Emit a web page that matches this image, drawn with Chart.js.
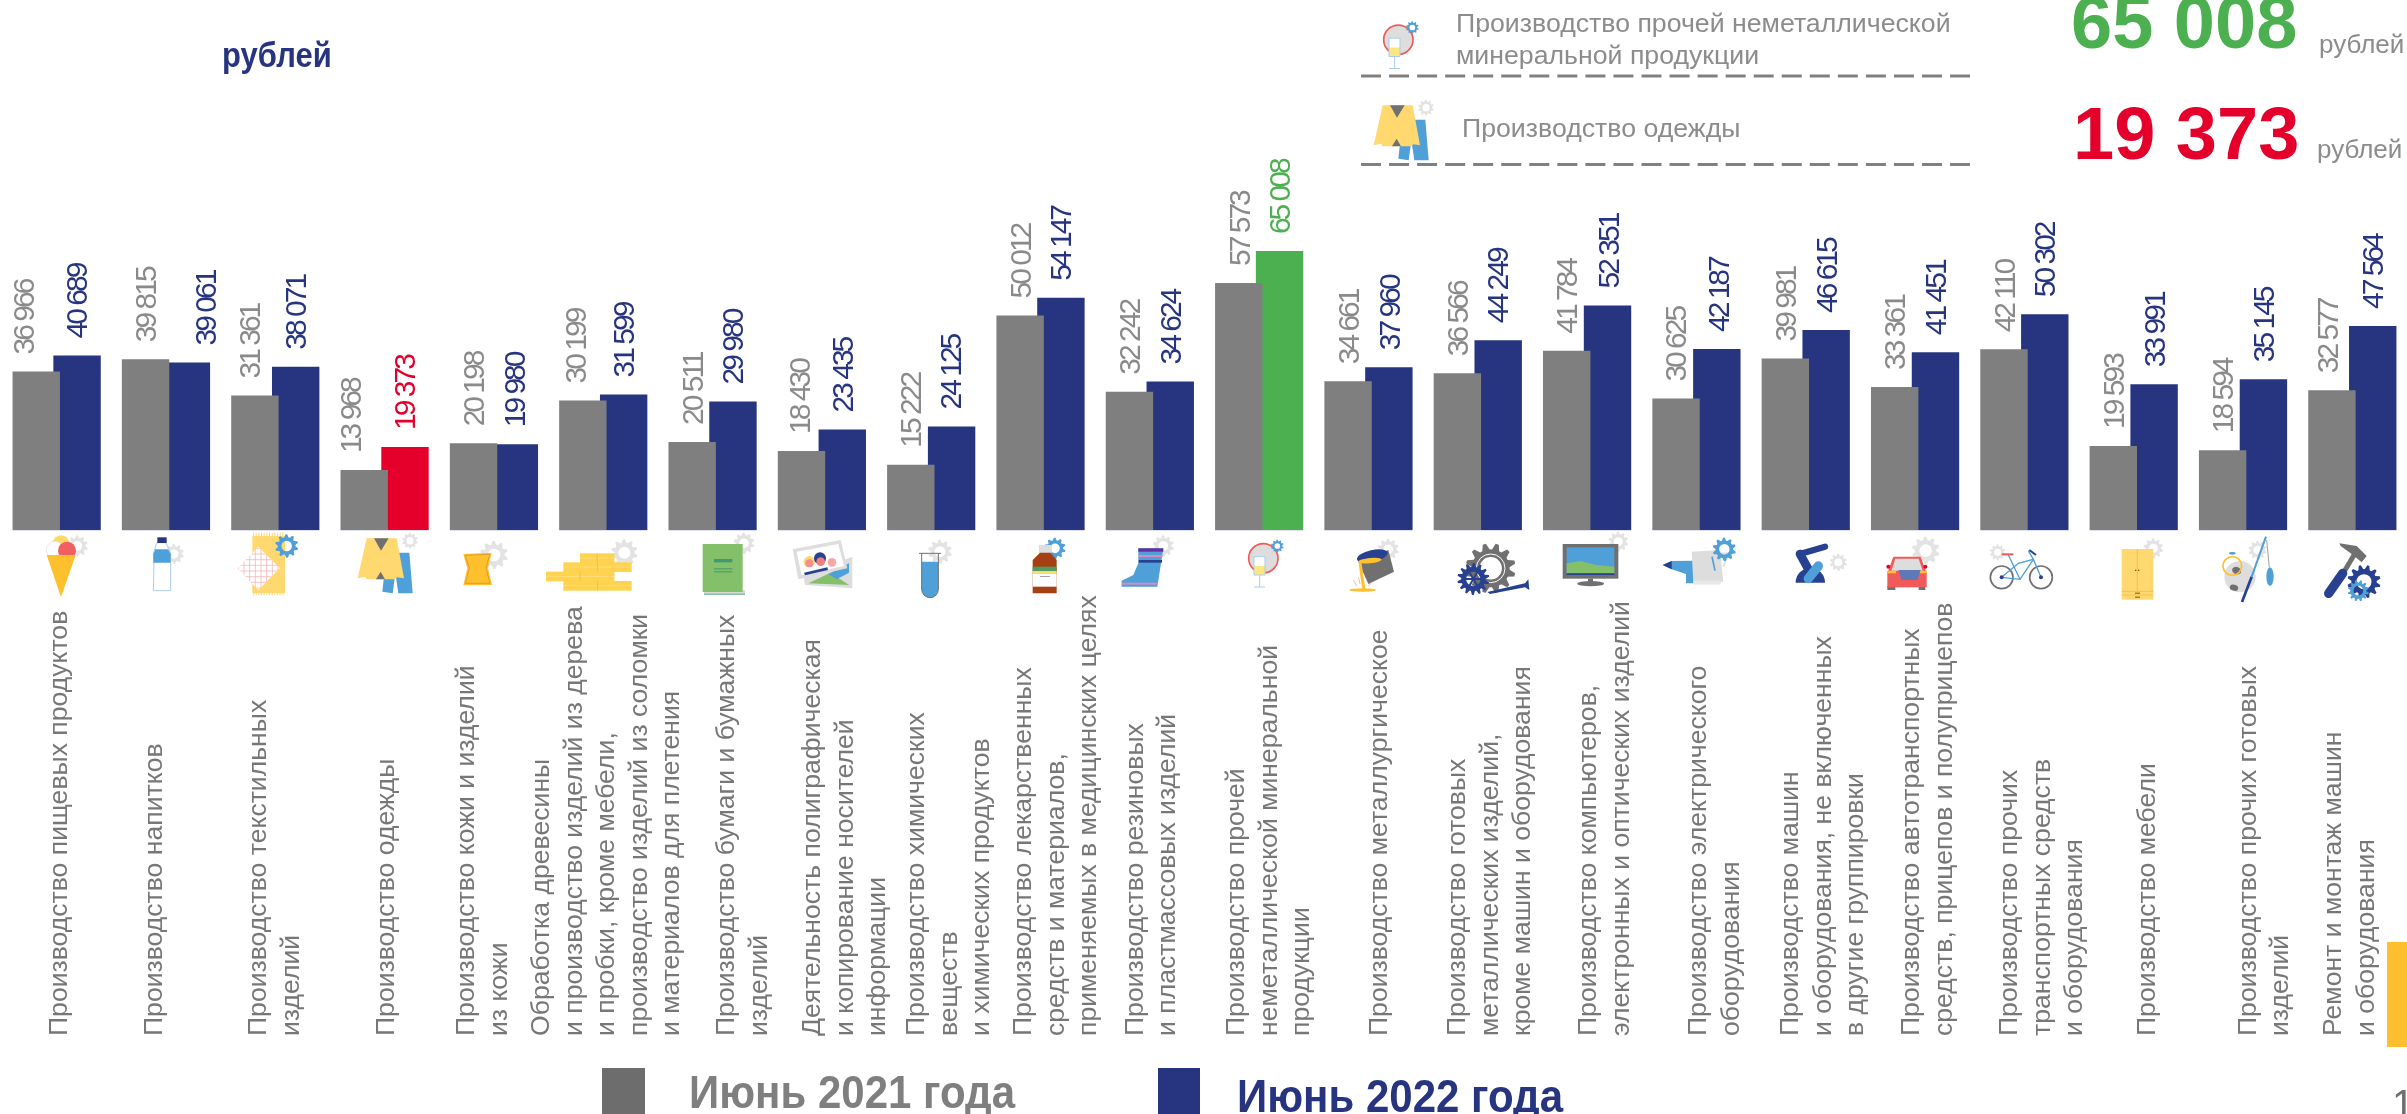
<!DOCTYPE html>
<html lang="ru">
<head>
<meta charset="utf-8">
<title>Среднемесячная заработная плата</title>
<script src="https://cdn.jsdelivr.net/npm/chart.js@4"></script>
<style>
  html, body { margin: 0; padding: 0; background: #fff; width: 2407px; height: 1114px; overflow: hidden; }
  body { position: relative; font-family: "Liberation Sans", Arial, sans-serif; }
  canvas { position: absolute; left: 0; top: 0; }
  .t { position: absolute; white-space: nowrap; line-height: 1; }
  .tall { transform: scaleY(1.12); transform-origin: 0 50%; }
  .box { position: absolute; }
</style>
</head>
<body>
<canvas id="chartCanvas" width="2407" height="1114"></canvas>

<div class="t tall" style="left:222px;top:40px;font-size:31px;font-weight:bold;color:#27347f">рублей</div>

<div class="t" style="left:1456px;top:10px;font-size:26.7px;color:#8c8c8c">Производство прочей неметаллической</div>
<div class="t" style="left:1456px;top:42px;font-size:26.7px;color:#8c8c8c">минеральной продукции</div>
<div class="t" style="left:1462px;top:115px;font-size:26.7px;color:#8c8c8c">Производство одежды</div>

<div class="t" style="left:2071px;top:-14px;font-size:74px;font-weight:bold;color:#4caf50">65 008</div>
<div class="t" style="left:2073px;top:97px;font-size:74px;font-weight:bold;color:#e4002b">19 373</div>
<div class="t" style="left:2319px;top:31px;font-size:26px;color:#8c8c8c">рублей</div>
<div class="t" style="left:2317px;top:136px;font-size:26px;color:#8c8c8c">рублей</div>

<div class="box" style="left:602px;top:1068px;width:43px;height:46px;background:#6d6d6d"></div>
<div class="t tall" style="left:689px;top:1071px;font-size:42px;font-weight:bold;color:#7f7f7f">Июнь 2021 года</div>
<div class="box" style="left:1158px;top:1068px;width:42px;height:46px;background:#27347f"></div>
<div class="t tall" style="left:1237px;top:1075px;font-size:42px;font-weight:bold;color:#27347f">Июнь 2022 года</div>

<div class="box" style="left:2387px;top:942px;width:20px;height:105px;background:#fdbf2d"></div>
<div class="t" style="left:2392px;top:1084px;font-size:40px;color:#6f6f6f">1</div>

<script>
const categories = [
  ["Производство пищевых продуктов"],
  ["Производство напитков"],
  ["Производство текстильных", "изделий"],
  ["Производство одежды"],
  ["Производство кожи и изделий", "из кожи"],
  ["Обработка древесины", "и производство изделий из дерева", "и пробки, кроме мебели,", "производство изделий из соломки", "и материалов для плетения"],
  ["Производство бумаги и бумажных", "изделий"],
  ["Деятельность полиграфическая", "и копирование носителей", "информации"],
  ["Производство химических", "веществ", "и химических продуктов"],
  ["Производство лекарственных", "средств и материалов,", "применяемых в медицинских целях"],
  ["Производство резиновых", "и пластмассовых изделий"],
  ["Производство прочей", "неметаллической минеральной", "продукции"],
  ["Производство металлургическое"],
  ["Производство готовых", "металлических изделий,", "кроме машин и оборудования"],
  ["Производство компьютеров,", "электронных и оптических изделий"],
  ["Производство электрического", "оборудования"],
  ["Производство машин", "и оборудования, не включенных", "в другие группировки"],
  ["Производство автотранспортных", "средств, прицепов и полуприцепов"],
  ["Производство прочих", "транспортных средств", "и оборудования"],
  ["Производство мебели"],
  ["Производство прочих готовых", "изделий"],
  ["Ремонт и монтаж машин", "и оборудования"]
];

const june2021 = [36966, 39815, 31361, 13968, 20198, 30199, 20511, 18430, 15222, 50012, 32242,
  57573, 34661, 36566, 41784, 30625, 39981, 33361, 42110, 19593, 18594, 32577];
const june2022 = [40689, 39061, 38071, 19373, 19980, 31599, 29980, 23435, 24125, 54147, 34624,
  65008, 37960, 44249, 52351, 42187, 46615, 41451, 50302, 33991, 35145, 47564];

const GREY = "#7f7f7f", NAVY = "#27347f", RED = "#e4002b", GREEN = "#4caf50";
const MAX_INDEX = 11, MIN_INDEX = 3;

// сдвиги подписей относительно столбца/категории, как в исходном слайде
const shift2021 = [-11.8, 0.8, -3.9, -12.2, 1, -6.4, 1.7, -1, 1.4, 1.8, 1.1, 1.5, 1.9, 1.8, 1.1, 1.1, 0.9, 1.3, 1.5, 1.3, 1.6, -3.7];
const shift2022 = [0.5, 20.2, 1.3, 0.6, 1, 1.3, 0.7, 1.1, 0.4, 0.7, 1.1, 1, 1.4, 0.8, 2.7, 2.5, 1.8, 1.5, 1.3, 1.6, 1.5, 0.7];
const catShift = [3, -11.4, -16.6, 1.9, -27.1, -61.5, 14.4, -9.2, -14.4, -16.6, -14.2, -22.2, 10.9, -19.8, 1.6, 2.3, -14.8, -3.1, -14.5, 14.2, 5.4, -18.4];

function fmt(v) {
  return String(v).replace(/(\d)(\d{3})$/, "$1 $2");
}

const valueLabels = {
  id: "valueLabels",
  afterDatasetsDraw(chart) {
    const ctx = chart.ctx;
    // светлая полоска под каждой группой столбцов
    const first = chart.getDatasetMeta(0).data, second = chart.getDatasetMeta(1).data;
    ctx.fillStyle = "#dfe1f0";
    first.forEach((bar, i) => {
      const left = bar.x - bar.width / 2, right = second[i].x + second[i].width / 2;
      ctx.fillRect(left, bar.base, right - left, 1);
    });
    ctx.save();
    ctx.font = "30px 'Liberation Sans'";
    ctx.letterSpacing = "-3px";
    ctx.textAlign = "left";
    ctx.textBaseline = "middle";
    chart.data.datasets.forEach((ds, d) => {
      chart.getDatasetMeta(d).data.forEach((bar, i) => {
        let color = d === 0 ? "#8a8a8a" : NAVY;
        if (d === 1 && i === MIN_INDEX) color = RED;
        if (d === 1 && i === MAX_INDEX) color = GREEN;
        ctx.save();
        ctx.translate(bar.x + (d === 0 ? shift2021 : shift2022)[i], bar.y - 17);
        ctx.rotate(-Math.PI / 2);
        ctx.fillStyle = color;
        ctx.fillText(fmt(ds.data[i]), 0, 1);
        ctx.restore();
      });
    });
    ctx.restore();
  }
};

const categoryLabels = {
  id: "categoryLabels",
  afterDraw(chart) {
    const ctx = chart.ctx, xs = chart.scales.x;
    ctx.save();
    ctx.font = "26.6px 'Liberation Sans'";
    ctx.fillStyle = "#777777";
    ctx.textAlign = "left";
    ctx.textBaseline = "middle";
    categories.forEach((lines, i) => {
      lines.forEach((line, n) => {
        ctx.save();
        ctx.translate(xs.getPixelForValue(i) + catShift[i] + n * 32.5, 1036);
        ctx.rotate(-Math.PI / 2);
        ctx.fillText(line, 0, 0);
        ctx.restore();
      });
    });
    ctx.restore();
  }
};

// ---- пиктограммы -----
const LG = "#e3e3e3", BL = "#4f9fd8", YE = "#ffd870", OR = "#ffc02e", DK = "#707070", NV = "#27408f", SOFT = "#dddddd", GR = "#84bf6a";

function poly(c, pts, color) {
  c.beginPath();
  pts.forEach((p, i) => i ? c.lineTo(p[0], p[1]) : c.moveTo(p[0], p[1]));
  c.closePath();
  c.fillStyle = color;
  c.fill();
}
function rect(c, x, y, w, h, color) { c.fillStyle = color; c.fillRect(x, y, w, h); }
function circ(c, x, y, r, color) { c.beginPath(); c.arc(x, y, r, 0, Math.PI * 2); c.fillStyle = color; c.fill(); }
function ring(c, x, y, r, color, lw) { c.beginPath(); c.arc(x, y, r, 0, Math.PI * 2); c.strokeStyle = color; c.lineWidth = lw; c.stroke(); }
function seg(c, pts, color, lw, cap) {
  c.beginPath();
  pts.forEach((p, i) => i ? c.lineTo(p[0], p[1]) : c.moveTo(p[0], p[1]));
  c.strokeStyle = color; c.lineWidth = lw; c.lineCap = cap || "butt"; c.stroke();
}
function ell(c, x, y, rx, ry, rot, color) { c.beginPath(); c.ellipse(x, y, rx, ry, rot, 0, Math.PI * 2); c.fillStyle = color; c.fill(); }
function gear(c, x, y, r, color, teeth) {
  const n = teeth || 10;
  c.beginPath();
  for (let i = 0; i < n * 4; i++) {
    const a = (i / (n * 4)) * Math.PI * 2 + 0.2;
    const rr = (i % 4 === 0 || i % 4 === 1) ? r : r * 0.76;
    const px = x + Math.cos(a) * rr, py = y + Math.sin(a) * rr;
    i ? c.lineTo(px, py) : c.moveTo(px, py);
  }
  c.closePath();
  c.moveTo(x + r * 0.45, y);
  c.arc(x, y, r * 0.45, 0, Math.PI * 2, true);
  c.fillStyle = color;
  c.fill("evenodd");
}

function iconSuit(c) {
  gear(c, 1230, 32, 24, LG);
  poly(c, [[1160, 68], [1228, 68], [1238, 190], [1195, 190], [1186, 130], [1178, 190], [1147, 185]], BL);
  poly(c, [[1100, 25], [1190, 25], [1212, 145], [1192, 142], [1185, 148], [1100, 148], [1095, 140], [1073, 145]], YE);
  poly(c, [[1122, 25], [1166, 25], [1143, 62]], DK);
  poly(c, [[1128, 148], [1155, 148], [1142, 125]], DK);
}
function iconGlass(c) {
  circ(c, 10, 85, 44, SOFT);
  ring(c, 10, 85, 44, "#f05a5a", 5);
  gear(c, 52, 48, 19, BL);
  rect(c, -18, 80, 33, 55, "#ffffff");
  rect(c, -18, 108, 33, 27, "#ffe680");
  seg(c, [[-18, 80], [-18, 135], [15, 135], [15, 80], [-18, 80]], "#a9cdec", 3);
  seg(c, [[-1, 135], [-1, 170]], "#a9cdec", 3);
  seg(c, [[-18, 171], [15, 171]], "#a9cdec", 3);
}

const iconsByCrop = [
  [0, c => {
    gear(c, 232, 48, 32, LG);
    circ(c, 183, 42, 26, "#ffd76b");
    circ(c, 165, 60, 26, "#ffffff"); ring(c, 165, 60, 26, SOFT, 2);
    circ(c, 201, 62, 27, "#f06060");
    poly(c, [[140, 75], [227, 75], [183, 202]], OR);
    // бутылка
    gear(c, 522, 72, 30, LG);
    poly(c, [[470, 38], [498, 38], [512, 72], [512, 182], [460, 182], [462, 100], [460, 72]], "#ffffff");
    seg(c, [[470, 38], [498, 38], [512, 72], [512, 182], [460, 182], [462, 100], [460, 72], [470, 38]], "#a9cdec", 3);
    poly(c, [[466, 58], [504, 58], [512, 72], [512, 98], [460, 98], [460, 72]], BL);
    rect(c, 472, 22, 28, 17, NAVY);
    // ткань
    rect(c, 757, 18, 98, 172, YE);
    for (let x = 759; x < 855; x += 8) { rect(c, x, 8, 3, 10, YE); rect(c, x, 190, 3, 6, YE); }
    poly(c, [[712, 115], [775, 50], [840, 115], [775, 180]], "#ffffff");
    c.save();
    c.beginPath(); c.moveTo(712, 115); c.lineTo(775, 50); c.lineTo(840, 115); c.lineTo(775, 180); c.closePath(); c.clip();
    for (let x = 715; x < 840; x += 17) seg(c, [[x, 50], [x, 180]], "#f4a9a9", 2);
    for (let y = 55; y < 180; y += 17) seg(c, [[712, y], [840, y]], "#f4a9a9", 2);
    c.restore();
    gear(c, 860, 48, 35, BL);
    iconSuit(c);
  }],
  [420, c => {
    // кожа
    gear(c, 222, 75, 42, LG);
    poly(c, [[130, 72], [215, 68], [204, 115], [216, 165], [130, 166], [142, 115]], OR);
    seg(c, [[136, 76], [209, 73], [198, 115], [210, 160], [136, 160], [148, 115], [136, 76]], "#d98a1a", 2);
    // доски
    gear(c, 613, 68, 40, LG);
    [[480, 70, 103], [430, 97, 205], [378, 125, 205], [430, 153, 205]].forEach(b => {
      rect(c, b[0], b[1], b[2], 29, "#ffd24f");
      seg(c, [[b[0], b[1] + 14], [b[0] + b[2], b[1] + 14]], "#ffe38f", 2);
      seg(c, [[b[0] + b[2] / 2, b[1]], [b[0] + b[2] / 2, b[1] + 29]], "#efb63a", 2);
    });
    // книга
    gear(c, 972, 40, 32, LG);
    rect(c, 852, 180, 123, 14, "#d9d9d9");
    rect(c, 852, 191, 123, 3, "#5fae7a");
    rect(c, 848, 42, 120, 144, GR);
    rect(c, 882, 87, 55, 10, "#3f9a6e");
    rect(c, 882, 115, 55, 3, "#3f9a6e");
    rect(c, 882, 124, 55, 3, "#3f9a6e");
    // фото
    poly(c, [[1150, 135], [1297, 80], [1297, 175], [1155, 165]], SOFT);
    poly(c, [[1165, 160], [1232, 128], [1287, 165]], GR);
    poly(c, [[1225, 132], [1287, 100], [1287, 128], [1250, 148]], BL);
    poly(c, [[1118, 58], [1262, 30], [1282, 115], [1135, 148]], SOFT);
    poly(c, [[1130, 65], [1255, 42], [1272, 108], [1145, 136]], "#ffffff");
    circ(c, 1168, 95, 17, YE);
    circ(c, 1168, 100, 12, "#f28f8f");
    circ(c, 1200, 85, 18, NV);
    circ(c, 1202, 95, 13, "#f07f7f");
    circ(c, 1236, 97, 13, "#f4a8a8");
    poly(c, [[1152, 128], [1222, 112], [1224, 120], [1155, 136]], NV);
  }],
  [840, c => {
    // пробирка
    gear(c, 300, 65, 36, LG);
    c.beginPath(); c.moveTo(245, 95); c.lineTo(295, 95); c.lineTo(295, 178); c.arc(270, 178, 25, 0, Math.PI); c.closePath();
    c.fillStyle = BL; c.fill();
    seg(c, [[245, 70], [245, 178]], DK, 3);
    seg(c, [[295, 70], [295, 178]], DK, 3);
    c.beginPath(); c.arc(270, 178, 25, 0, Math.PI); c.strokeStyle = DK; c.lineWidth = 3; c.stroke();
    seg(c, [[237, 70], [303, 70]], DK, 3);
    // лекарство
    gear(c, 645, 55, 32, BL);
    rect(c, 597, 45, 38, 25, SOFT);
    poly(c, [[600, 68], [632, 68], [650, 90], [650, 190], [578, 190], [578, 90]], "#a63f14");
    rect(c, 578, 110, 72, 13, "#4f9a5f");
    rect(c, 578, 123, 72, 7, YE);
    rect(c, 578, 130, 72, 40, "#ffffff");
    rect(c, 600, 138, 30, 2, "#777777");
    // сапог
    gear(c, 970, 48, 32, LG);
    poly(c, [[895, 55], [970, 55], [952, 170], [845, 170], [845, 152], [880, 135], [895, 100]], BL);
    rect(c, 895, 55, 75, 10, "#6a2d9f");
    rect(c, 895, 75, 73, 6, "#d58cc0");
    rect(c, 896, 90, 70, 8, NV);
    rect(c, 845, 158, 107, 6, "#d58cc0");
  }],
  [1260, c => {
    iconGlass(c);
    // ковш
    gear(c, 385, 58, 32, LG);
    poly(c, [[295, 95], [385, 60], [402, 125], [325, 162]], DK);
    ell(c, 337, 78, 47, 18, -0.22, NV);
    ell(c, 330, 92, 35, 8, -0.1, OR);
    seg(c, [[300, 95], [305, 135], [312, 178]], OR, 9);
    ell(c, 308, 180, 40, 5, 0, OR);
    seg(c, [[280, 150], [290, 168]], "#f28f8f", 2);
    seg(c, [[296, 142], [300, 162]], "#f28f8f", 2);
    seg(c, [[335, 155], [325, 168]], "#f28f8f", 2);
    // шестерни
    gear(c, 692, 115, 75, DK, 12);
    ring(c, 692, 115, 43, "#ffffff", 3);
    poly(c, [[682, 186], [795, 160], [805, 148], [808, 180], [795, 172], [690, 192]], NV);
    gear(c, 640, 147, 48, NV, 14);
    for (let a = 0; a < 6; a++) seg(c, [[640, 147], [640 + Math.cos(a * 1.047) * 32, 147 + Math.sin(a * 1.047) * 32]], NV, 6);
    // монитор
    gear(c, 1075, 35, 30, LG);
    rect(c, 908, 42, 167, 104, DK);
    rect(c, 920, 52, 143, 78, BL);
    poly(c, [[920, 100], [960, 93], [1010, 105], [1063, 110], [1063, 130], [920, 130]], GR);
    rect(c, 920, 130, 143, 5, NV);
    rect(c, 984, 146, 15, 10, DK);
    ell(c, 992, 161, 40, 8, 0, DK);
  }],
  [1680, c => {
    // дрель и чайник
    poly(c, [[-52, 105], [-25, 93], [40, 92], [40, 130], [40, 160], [18, 160], [18, 132], [-25, 118]], BL);
    poly(c, [[-52, 105], [-25, 93], [-25, 118]], NV);
    poly(c, [[35, 65], [120, 60], [130, 155], [40, 155]], SOFT);
    rect(c, 40, 152, 82, 12, "#e8e8e8");
    seg(c, [[120, 70], [145, 70], [130, 110]], SOFT, 5);
    seg(c, [[96, 80], [105, 122]], BL, 5);
    gear(c, 133, 58, 35, BL);
    // робот
    gear(c, 475, 97, 26, LG);
    c.beginPath(); c.arc(391, 158, 44, Math.PI, 0); c.closePath(); c.fillStyle = NV; c.fill();
    seg(c, [[360, 72], [435, 50]], NV, 19, "round");
    seg(c, [[360, 72], [392, 130]], NV, 26, "round");
    seg(c, [[385, 146], [415, 108]], BL, 28, "round");
    // машина
    gear(c, 737, 62, 42, LG);
    rect(c, 622, 168, 24, 12, DK);
    rect(c, 716, 168, 20, 12, DK);
    poly(c, [[640, 80], [722, 80], [740, 130], [622, 130]], "#f05a5a");
    poly(c, [[646, 86], [716, 86], [728, 122], [634, 122]], SOFT);
    rect(c, 622, 125, 118, 47, "#f05a5a");
    rect(c, 622, 122, 26, 8, OR);
    rect(c, 714, 122, 26, 8, OR);
    circ(c, 625, 110, 6, RED);
    circ(c, 736, 110, 6, RED);
    poly(c, [[655, 120], [722, 120], [712, 150], [665, 150]], "#5f78b8");
    // велосипед
    gear(c, 953, 67, 24, LG);
    ring(c, 965, 142, 34, DK, 5);
    ring(c, 1083, 142, 34, DK, 5);
    seg(c, [[965, 142], [1015, 100], [1060, 88], [1083, 142]], BL, 4);
    seg(c, [[965, 142], [1020, 148], [1060, 88]], BL, 4);
    seg(c, [[985, 75], [1020, 148]], BL, 4);
    seg(c, [[1045, 62], [1060, 88]], BL, 4);
    rect(c, 965, 70, 35, 6, "#f05a5a");
    seg(c, [[1048, 60], [1068, 75]], NV, 6);
    circ(c, 965, 142, 6, NV);
    circ(c, 1083, 142, 6, NV);
  }],
  [2100, c => {
    // шкаф
    gear(c, 160, 55, 30, LG);
    rect(c, 65, 57, 95, 152, YE);
    seg(c, [[112, 57], [112, 182]], "#efb63a", 2);
    seg(c, [[65, 184], [160, 184]], "#efb63a", 2);
    seg(c, [[65, 195], [160, 195]], "#efb63a", 2);
    rect(c, 105, 188, 15, 3, "#a63f14");
    rect(c, 105, 200, 15, 3, "#a63f14");
    rect(c, 105, 119, 4, 4, "#a63f14");
    rect(c, 114, 119, 4, 4, "#a63f14");
    // мяч, кольцо, удочка
    gear(c, 473, 60, 28, LG);
    circ(c, 420, 140, 47, SOFT);
    ell(c, 410, 122, 14, 11, 0.4, DK);
    ell(c, 402, 173, 13, 9, 0.3, DK);
    ring(c, 397, 108, 28, OR, 5);
    ell(c, 397, 70, 10, 4, 0, BL);
    seg(c, [[500, 30], [508, 112]], DK, 2);
    ell(c, 510, 140, 11, 28, 0, BL);
    seg(c, [[498, 20], [455, 140]], BL, 6);
    seg(c, [[455, 140], [426, 216]], NV, 8);
    // молоток
    seg(c, [[734, 122], [764, 72]], DK, 15);
    poly(c, [[718, 40], [770, 48], [800, 78], [785, 97], [755, 72], [722, 48]], DK);
    seg(c, [[686, 190], [728, 130]], NV, 28, "round");
    gear(c, 792, 155, 50, NV, 12);
    gear(c, 775, 182, 32, BL, 12);
  }]
];

const iconsPlugin = {
  id: "icons",
  afterDraw(chart) {
    const c = chart.ctx;
    iconsByCrop.forEach(([ox, draw]) => {
      c.save();
      c.translate(ox, 530);
      c.scale(1 / 3, 1 / 3);
      draw(c);
      c.restore();
    });
    // значки и пунктир справа вверху
    c.save(); c.translate(1395, 39.5 - 28); c.scale(1 / 3, 1 / 3); iconGlass(c); c.restore();
    c.save(); c.translate(1016, 97); c.scale(1 / 3, 1 / 3); iconSuit(c); c.restore();
    c.save();
    c.strokeStyle = "#808080"; c.lineWidth = 3; c.setLineDash([20, 8.05]);
    [76, 164.5].forEach(y => { c.beginPath(); c.moveTo(1361, y); c.lineTo(1970, y); c.stroke(); });
    c.restore();
  }
};

new Chart(document.getElementById("chartCanvas").getContext("2d"), {
  type: "bar",
  data: {
    labels: categories.map(l => l.join(" ")),
    datasets: [
      { label: "Июнь 2021 года", data: june2021, backgroundColor: GREY },
      {
        label: "Июнь 2022 года",
        data: june2022,
        backgroundColor: june2022.map((v, i) => i === MIN_INDEX ? RED : i === MAX_INDEX ? GREEN : NAVY)
      }
    ]
  },
  options: {
    responsive: false,
    animation: false,
    devicePixelRatio: 1,
    categoryPercentage: 0.7463,
    barPercentage: 1.162,
    layout: { padding: { left: 2, right: 0, top: 101, bottom: 584 } },
    plugins: { legend: { display: false }, tooltip: { enabled: false } },
    scales: {
      x: { display: false },
      y: { display: false, min: 0, max: 100000 }
    }
  },
  plugins: [valueLabels, categoryLabels, iconsPlugin]
});
</script>
</body>
</html>
